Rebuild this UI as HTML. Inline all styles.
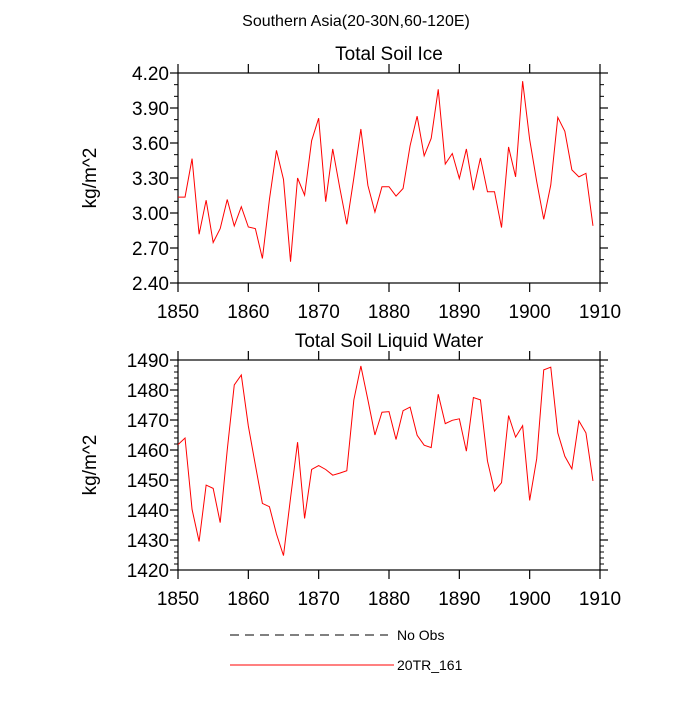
<!DOCTYPE html>
<html><head><meta charset="utf-8"><style>body{margin:0;background:#fff}svg text{font-family:"Liberation Sans",sans-serif}</style></head>
<body>
<svg id="c" width="700" height="700"></svg>
<script>
const years=[];for(let y=1850;y<=1909;y++)years.push(y);
const iceValues=[3.136,3.136,3.466,2.818,3.11,2.747,2.866,3.116,2.889,3.054,2.88,2.866,2.61,3.116,3.537,3.287,2.582,3.30,3.153,3.62,3.813,3.097,3.549,3.216,2.903,3.30,3.72,3.236,3.008,3.225,3.225,3.145,3.21,3.577,3.83,3.49,3.64,4.06,3.42,3.51,3.296,3.549,3.196,3.472,3.182,3.182,2.875,3.566,3.31,4.13,3.63,3.27,2.946,3.24,3.82,3.70,3.37,3.31,3.34,2.89];
const liqValues=[1461.8,1464,1440.2,1429.5,1448.3,1447.2,1435.8,1460,1481.7,1485,1468,1455,1442.2,1441.1,1432,1424.8,1444,1462.6,1437.2,1453.5,1454.8,1453.5,1451.6,1452.3,1453.1,1476.7,1488,1476.7,1465,1472.6,1472.8,1463.5,1473.1,1474.3,1464.9,1461.6,1460.8,1478.6,1468.8,1469.9,1470.4,1459.6,1477.5,1476.7,1456.3,1446.3,1449.1,1471.5,1464.3,1468.1,1443.2,1457.1,1486.7,1487.6,1465.7,1457.9,1453.7,1469.7,1465.7,1449.7];
const xTicks=[1850,1860,1870,1880,1890,1900,1910];
const iceTicks=[2.40,2.70,3.00,3.30,3.60,3.90,4.20];
const liqTicks=[1420,1430,1440,1450,1460,1470,1480,1490];
const svg=document.getElementById('c');const NS='http://www.w3.org/2000/svg';
function mk(t,a,p){const e=document.createElementNS(NS,t);for(const k in a)e.setAttribute(k,a[k]);(p||svg).appendChild(e);return e;}
const X0=178,X1=600;
function panel(name,top,bot,ymin,ymax,ticks,minorStep,dec,vals,title){
  const g=mk('g',{});
  
  
  const sx=v=>X0+(v-1850)/60*(X1-X0);
  const sy=v=>bot-(v-ymin)/(ymax-ymin)*(bot-top);
  const fr=mk('rect',{x:X0,y:top,width:X1-X0,height:bot-top,fill:'none',stroke:'#000','stroke-width':1.2},g);
  
  
  for(let v=ymin;v<=ymax+1e-6;v+=minorStep){const y=sy(v);
    mk('line',{x1:X0-4,x2:X0,y1:y,y2:y,stroke:'#000'},g);mk('line',{x1:X1,x2:X1+4,y1:y,y2:y,stroke:'#000'},g);}
  ticks.forEach(v=>{const y=sy(v);
    mk('line',{x1:X0-8,x2:X0,y1:y,y2:y,stroke:'#000','stroke-width':1.2},g);mk('line',{x1:X1,x2:X1+8,y1:y,y2:y,stroke:'#000','stroke-width':1.2},g);
    const t=mk('text',{x:X0-9,y:y+7,'text-anchor':'end','font-size':19},g);t.textContent=v.toFixed(dec);
    
    });
  xTicks.forEach(v=>{const x=sx(v);
    mk('line',{x1:x,x2:x,y1:bot,y2:bot+9,stroke:'#000','stroke-width':1.2},g);mk('line',{x1:x,x2:x,y1:top-9,y2:top,stroke:'#000','stroke-width':1.2},g);
    const t=mk('text',{x:x,y:bot+35,'text-anchor':'middle','font-size':19},g);t.textContent=v;
    
    });
  const pl=mk('polyline',{points:vals.map((v,i)=>sx(years[i])+','+sy(v)).join(' '),fill:'none',stroke:'#f00','stroke-width':1},g);
  
  
  const tt=mk('text',{x:389,y:top-13,'text-anchor':'middle','font-size':19},g);tt.textContent=title;
  
  
  const cy=(top+bot)/2;
  const yt=mk('text',{x:96,y:cy,'text-anchor':'middle','font-size':19,transform:'rotate(-90 96 '+cy+')'},g);yt.textContent='kg/m^2';
  
  
}
panel('ice-panel',73,283,2.4,4.2,iceTicks,0.1,2,iceValues,'Total Soil Ice');
panel('liquid-panel',360,570,1420,1490,liqTicks,2,0,liqValues,'Total Soil Liquid Water');
const mt=mk('text',{x:356,y:26,'text-anchor':'middle','font-size':16});mt.textContent='Southern Asia(20-30N,60-120E)';


const l1=mk('line',{x1:230,x2:388,y1:635,y2:635,stroke:'#000','stroke-dasharray':'9,6'});


const t1=mk('text',{x:397,y:640,'font-size':14});t1.textContent='No Obs';


const l2=mk('line',{x1:230,x2:394,y1:665,y2:665,stroke:'#f00'});


const t2=mk('text',{x:397,y:670,'font-size':14});t2.textContent='20TR_161';


</script>
</body></html>
